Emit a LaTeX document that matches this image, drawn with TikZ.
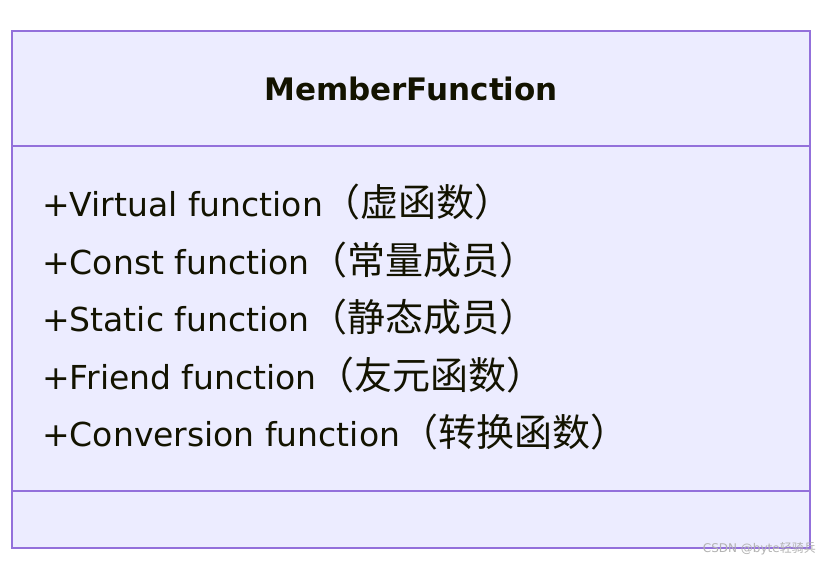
\documentclass[tikz,border=0pt]{standalone}
\usepackage{fontspec}
\setmainfont{DejaVu Sans}
\newfontfamily\cjk{Noto Sans CJK SC}
\definecolor{umlborder}{HTML}{9370DB}
\definecolor{umlfill}{HTML}{ECECFF}
\definecolor{umltext}{HTML}{131300}
\newcommand{\cjkpart}[1]{{\cjk\fontsize{38}{40}\selectfont #1}}
\begin{document}
\begin{tikzpicture}[x=1pt,y=1pt,
  member/.style={anchor=west,inner sep=0pt,text=umltext,font=\fontsize{33}{38}\selectfont},
  divider/.style={draw=umlborder,line width=2pt}]
\useasboundingbox (0,0) rectangle (828,565);
\fill[white] (0,0) rectangle (828,565);
\node[draw=umlborder,fill=umlfill,line width=2pt,minimum width=798pt,minimum height=517pt,inner sep=0pt] (box) at (411,{565-289.5}) {};
\coordinate (h1) at (12,{565-146});
\coordinate (h2) at (810,{565-146});
\coordinate (s1) at (12,{565-491});
\coordinate (s2) at (810,{565-491});
\draw[divider] (h1) -- (h2);
\draw[divider] (s1) -- (s2);
\node[text=umltext,inner sep=0pt,font=\bfseries\fontsize{31}{36}\selectfont] (title) at (411,{565-89}) {MemberFunction};
\node[member] (m1) at (42,{565-202}) {+Virtual function\cjkpart{（虚函数）}};
\node[member] (m2) at (42,{565-260}) {+Const function\cjkpart{（常量成员）}};
\node[member] (m3) at (42,{565-317}) {+Static function\cjkpart{（静态成员）}};
\node[member] (m4) at (42,{565-375}) {+Friend function\cjkpart{（友元函数）}};
\node[member] (m5) at (42,{565-432}) {+Conversion function\cjkpart{（转换函数）}};
\node[anchor=east,inner sep=0pt,text=black!30,font=\fontsize{12}{14}\selectfont] (wm) at (816,{565-549}) {CSDN @byte{\cjk 轻骑兵}};
\end{tikzpicture}
\end{document}
